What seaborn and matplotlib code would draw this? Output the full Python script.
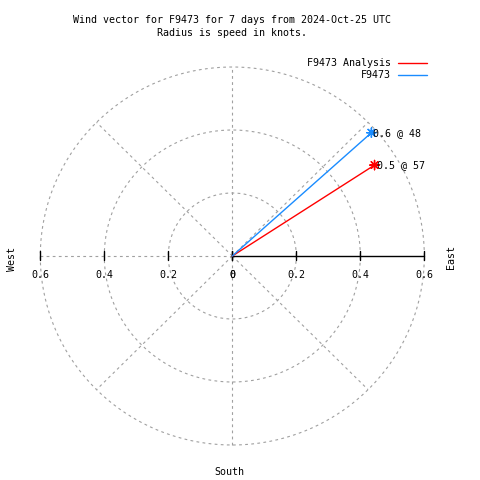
import numpy as np
import pandas as pd
import matplotlib
matplotlib.use('Agg')
import matplotlib.pyplot as plt
import seaborn as sns

# wind vectors (speed in knots, direction in degrees from north)
series = ['F9473 Analysis', 'F9473']
speeds = [0.53, 0.585]
directions = [57, 48]
colors = ['#ff0000', '#1a8cff']

rings = [0.2, 0.4, 0.6]
tick_vals = [0, 0.2, 0.4, 0.6]
tick_labels = ['0', '0.2', '0.4', '0.6']
title_lines = ['Wind vector for F9473 for 7 days from 2024-Oct-25 UTC',
               'Radius is speed in knots.']

sns.set_style('white')
plt.rcParams['font.family'] = ['DejaVu Sans Mono']
plt.rcParams['font.size'] = 7.2
plt.rcParams['text.color'] = 'black'

# pixel layout of the plot centre and scale
cx, cy = 232.3, 256.0
sx, sy = 320.0, 315.0
W = H = 480.0

fig = plt.figure(figsize=(4.8, 4.8), dpi=100)
ax = fig.add_axes([0, 0, 1, 1])
ax.set_xlim(-cx / sx, (W - cx) / sx)
ax.set_ylim(-(H - cy) / sy, cy / sy)
ax.axis('off')

def fx(px):
    return px / W

def fy(py):
    return 1 - py / H

# grid
gray = '#a0a0a0'
dash = (0, (2.5, 3))
th = np.linspace(0, 2 * np.pi, 500)
for r in rings:
    ax.plot(r * np.cos(th), r * np.sin(th), color=gray, ls=dash, lw=0.8)
rmax = rings[-1]
for a in [45, 135, 225, 315]:
    t = np.deg2rad(a)
    ax.plot([0, rmax * np.cos(t)], [0, rmax * np.sin(t)], color=gray, ls=dash, lw=0.8)
ax.plot([0, 0], [-rmax, rmax], color=gray, ls=dash, lw=0.8)
ax.plot([-rmax, 0], [0, 0], color=gray, ls=dash, lw=0.8)

# speed axis
ax.plot([0, rmax], [0, 0], color='black', lw=1)
for v, lab in zip(tick_vals, tick_labels):
    for sgn in (1, -1):
        ax.plot([sgn * v, sgn * v], [-4 / sy, 5 / sy], color='black', lw=1)
        ax.text(sgn * v, -19 / sy, lab, ha='center', va='center')

# vectors
rad = np.deg2rad(directions)
tip_x = np.array(speeds) * np.sin(rad)
tip_y = np.array(speeds) * np.cos(rad)
df = pd.DataFrame({
    'series': series * 2,
    'x': [0.0] * len(series) + list(tip_x),
    'y': [0.0] * len(series) + list(tip_y),
})
pal = dict(zip(series, colors))
sns.lineplot(data=df, x='x', y='y', hue='series', palette=pal, sort=False,
             estimator=None, legend=False, lw=1, ax=ax)
tips = pd.DataFrame({'series': series, 'x': tip_x, 'y': tip_y})
sns.scatterplot(data=tips, x='x', y='y', hue='series', palette=pal,
                marker=(8, 2, 0), s=45, linewidth=1, legend=False, ax=ax)
for x, y, s, d in zip(tip_x, tip_y, speeds, directions):
    ax.text(x + 2 / sx, y, f'{s:.1f} @ {d}', ha='left', va='center')
ax.set_xlabel('')
ax.set_ylabel('')

# title
fig.text(fx(232), fy(20), title_lines[0], ha='center', va='center')
fig.text(fx(232), fy(33), title_lines[1], ha='center', va='center')

# legend
for i, (name, c) in enumerate(zip(series, colors)):
    yy = fy(63.3 + 12 * i)
    fig.text(fx(390.7), yy, name, ha='right', va='center')
    ax.plot([fx(397.7), fx(427)], [yy, yy], color=c, lw=1,
            transform=fig.transFigure, clip_on=False)

# compass labels
fig.text(fx(12.3), fy(259), 'West', rotation=90, ha='center', va='center')
fig.text(fx(450.7), fy(257), 'East', rotation=90, ha='center', va='center')
fig.text(fx(229), fy(472), 'South', ha='center', va='center')

fig.savefig('out.png', dpi=100)
